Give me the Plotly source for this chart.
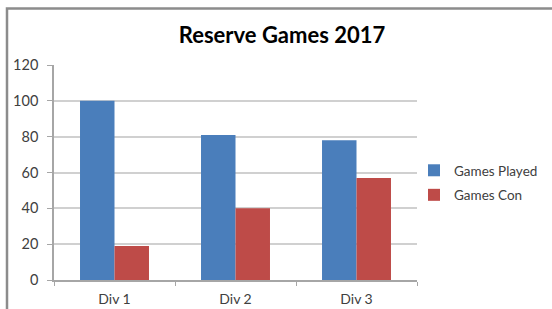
import plotly.graph_objects as go

categories = ["Div 1", "Div 2", "Div 3"]
games_played = [100, 81, 78]
games_con = [19, 40, 57]
y_ticks = [0, 20, 40, 60, 80, 100, 120]

fig = go.Figure()
fig.add_trace(go.Bar(x=categories, y=games_played, name="Games Played",
                     marker=dict(color="#4A7EBB", line=dict(width=0)),
                     legendgroup="a"))
fig.add_trace(go.Bar(x=categories, y=games_con, name="Games Con",
                     marker=dict(color="#BE4B48", line=dict(width=0)),
                     legendgroup="b"))

W, H = 552, 309
L, R, T, B = 54, 135, 65, 29
pw, ph = W - L - R, H - T - B

def px(x):
    return (x - L) / pw

def py(y):
    return (H - B - y) / ph

font_family = "Lato, 'Open Sans', sans-serif"

fig.update_layout(
    width=W, height=H,
    margin=dict(l=L, r=R, t=T, b=B, pad=0, autoexpand=False),
    paper_bgcolor="white", plot_bgcolor="white",
    barmode="group", bargap=0.43, bargroupgap=0,
    font=dict(family=font_family, size=13, color="#404040"),
    title=dict(text="<b>Reserve Games 2017</b>", x=px(282), xref="paper",
               xanchor="center", y=1 - 35 / H, yanchor="middle",
               font=dict(family=font_family, size=22, color="#000000")),
    legend=dict(x=px(414), y=py(155), xanchor="left", yanchor="top",
                traceorder="grouped", tracegroupgap=4,
                font=dict(size=13.5, color="#404040"),
                itemwidth=30, bgcolor="rgba(0,0,0,0)"),
    xaxis=dict(showline=True, linecolor="#A6A6A6", linewidth=1.5,
               ticks="outside", tickson="boundaries", ticklen=4,
               tickcolor="#A6A6A6", showgrid=False, automargin=False,
               ticklabelstandoff=5, tickfont=dict(size=14, color="#404040")),
    yaxis=dict(range=[0, 120], tickvals=y_ticks, showline=True,
               linecolor="#A6A6A6", linewidth=1.5, ticks="outside",
               ticklen=5, tickcolor="#A6A6A6", showgrid=True,
               gridcolor="#D0D0D0", gridwidth=1.5, zeroline=False,
               automargin=False,
               ticklabelstandoff=6, tickfont=dict(size=14.5, color="#404040")),
    shapes=[dict(type="path", xref="paper", yref="paper",
                 path=f"M {px(7)},{py(320)} L {px(7)},{py(8.5)} L {px(560)},{py(8.5)}",
                 line=dict(color="#8C8C8C", width=2.5))],
)

fig.write_html("out.html", config={"displayModeBar": False},
               post_script="document.body.style.margin='0';document.body.style.overflow='hidden';")
